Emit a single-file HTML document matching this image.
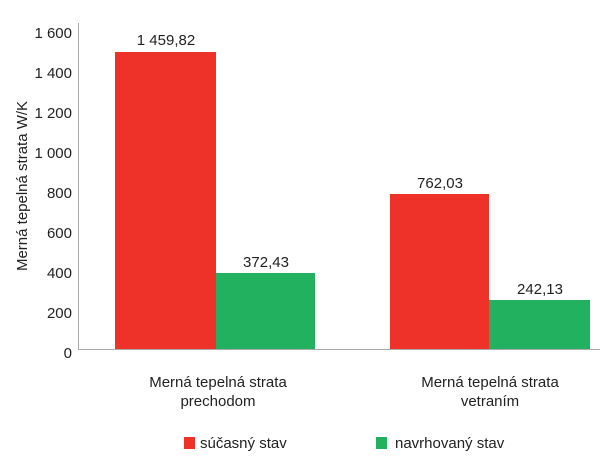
<!DOCTYPE html>
<html><head><meta charset="utf-8"><style>
body{margin:0;background:#fff}
svg text{font-family:"Liberation Sans",sans-serif;fill:#222}
</style></head><body>
<svg width="600" height="460" xmlns="http://www.w3.org/2000/svg">
<line x1="78.5" y1="23" x2="78.5" y2="349.5" stroke="#aaa" stroke-width="1"/>
<line x1="78" y1="349.5" x2="600" y2="349.5" stroke="#aaa" stroke-width="1"/>
<g font-size="15" text-anchor="end">
<text x="72" y="38">1 600</text>
<text x="72" y="78">1 400</text>
<text x="72" y="118">1 200</text>
<text x="72" y="158">1 000</text>
<text x="72" y="198">800</text>
<text x="72" y="238">600</text>
<text x="72" y="278">400</text>
<text x="72" y="318">200</text>
<text x="72" y="358">0</text>
</g>
<text transform="translate(27,186) rotate(-90)" font-size="15" text-anchor="middle">Merná tepelná strata W/K</text>
<rect x="115" y="52" width="101" height="297" fill="#ee3129"/>
<rect x="216" y="273" width="99" height="76" fill="#21b15f"/>
<rect x="390" y="194" width="99" height="155" fill="#ee3129"/>
<rect x="489" y="300" width="101" height="49" fill="#21b15f"/>
<g font-size="15" text-anchor="middle">
<text x="166" y="45">1 459,82</text>
<text x="266" y="267">372,43</text>
<text x="440" y="188">762,03</text>
<text x="540" y="294">242,13</text>
<text x="218" y="387">Merná tepelná strata</text>
<text x="218" y="406">prechodom</text>
<text x="490" y="387">Merná tepelná strata</text>
<text x="490" y="406">vetraním</text>
</g>
<rect x="184" y="437" width="11" height="12" fill="#ee3129"/>
<text x="200" y="448" font-size="15">súčasný stav</text>
<rect x="376" y="437" width="11" height="12" fill="#21b15f"/>
<text x="395" y="448" font-size="15">navrhovaný stav</text>
</svg>
</body></html>
